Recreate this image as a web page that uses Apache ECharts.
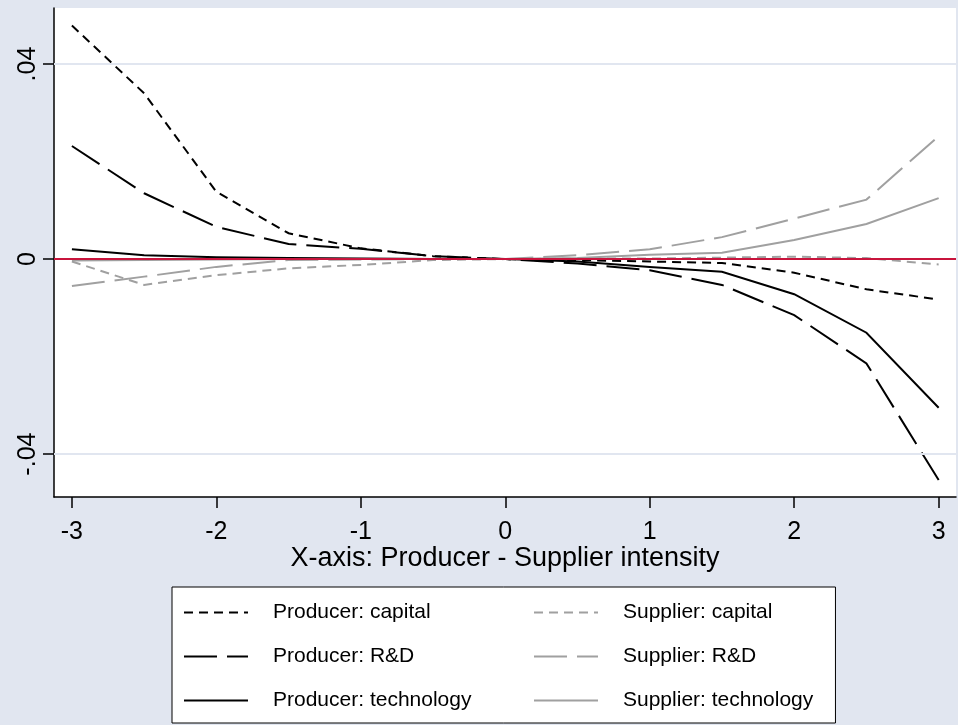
<!DOCTYPE html>
<html>
<head>
<meta charset="utf-8">
<script src="https://cdn.jsdelivr.net/npm/echarts@6/dist/echarts.min.js"></script>
<style>
html,body{margin:0;padding:0;background:#e1e6f0;}
#chart{width:958px;height:725px;}
</style>
</head>
<body>
<div id="chart"></div>
<script>
// ---- data ----
var xs = [-3, -2.5, -2, -1.5, -1, -0.5, 0, 0.5, 1, 1.5, 2, 2.5, 3];
var prodCapital = [0.0479, 0.0340, 0.0138, 0.0053, 0.0022, 0.0006, 0, -0.0002, -0.0005, -0.0008, -0.0028, -0.0062, -0.0083];
var prodRD      = [0.0232, 0.0135, 0.0066, 0.0031, 0.0021, 0.0006, 0, -0.0009, -0.0023, -0.0053, -0.0115, -0.0214, -0.0453];
var prodTech    = [0.0020, 0.0008, 0.0004, 0.0002, 0.0001, 0.0000, 0, -0.0005, -0.0016, -0.0026, -0.0072, -0.0151, -0.0305];
var supCapital  = [-0.0005, -0.0053, -0.0033, -0.0019, -0.0012, -0.0002, 0, 0.0001, 0.0001, 0.0003, 0.0005, 0.0002, -0.0011];
var supRD       = [-0.0055, -0.0036, -0.0016, -0.0002, -0.0001, 0.0000, 0, 0.0008, 0.0020, 0.0045, 0.0083, 0.0122, 0.0252];
var supTech     = [-0.0003, -0.0002, -0.0001, 0, 0, 0, 0, 0.0002, 0.0009, 0.0013, 0.0039, 0.0072, 0.0125];
var xTicks = [-3, -2, -1, 0, 1, 2, 3];
var yTicks = [-0.04, 0, 0.04];
var gridLineValues = [-0.04, 0.04];
var refLineValue = 0;
var xTitle = 'X-axis: Producer - Supplier intensity';
var names = ['Producer: capital', 'Producer: R&D', 'Producer: technology',
             'Supplier: capital', 'Supplier: R&D', 'Supplier: technology'];

function pairs(ys) { return xs.map(function (x, i) { return [x, ys[i]]; }); }

var BLACK = '#000000', GRAY = '#a0a0a0';
var SHORT = [9, 6], LONG = [33, 10];
var FONT = 'Liberation Sans, Arial, Helvetica, sans-serif';

function mk(name, ys, color, type) {
  return {
    name: name, type: 'line', data: pairs(ys), symbol: 'none', z: 3,
    lineStyle: { color: color, width: 2, type: type, join: 'miter', cap: 'butt' },
    itemStyle: { color: color },
    emphasis: { disabled: true }, animation: false
  };
}

var legendCommon = {
  orient: 'vertical', itemGap: 23, itemWidth: 64, itemHeight: 14,
  selectedMode: false,
  itemStyle: { opacity: 0, color: 'transparent', borderWidth: 0 },
  textStyle: { fontSize: 21, color: '#000', fontFamily: FONT, padding: [0, 0, 0, 20] }
};

var chart = echarts.init(document.getElementById('chart'), null, { renderer: 'canvas' });
chart.setOption({
  backgroundColor: '#e1e6f0',
  animation: false,
  textStyle: { fontFamily: FONT },
  grid: {
    left: 54, right: 2, top: 8, bottom: 228,
    show: true, backgroundColor: '#ffffff', borderWidth: 0,
    containLabel: false, outerBoundsMode: 'none'
  },
  xAxis: {
    type: 'value', min: -3.124, max: 3.12,
    axisLine: { show: true, onZero: false, lineStyle: { color: '#000', width: 1.5 } },
    axisTick: { show: true, inside: false, length: 11, customValues: xTicks, lineStyle: { color: '#000', width: 1.5 } },
    axisLabel: { show: true, customValues: xTicks, margin: 23, fontSize: 25, color: '#000', fontFamily: FONT,
                 formatter: function (v) { return String(v); } },
    splitLine: { show: false },
    name: xTitle, nameLocation: 'middle', nameGap: 48, nameMoveOverlap: false,
    nameTextStyle: { fontSize: 27, color: '#000', fontFamily: FONT }
  },
  yAxis: {
    type: 'value', min: -0.0488, max: 0.0515,
    axisLine: { show: true, onZero: false, lineStyle: { color: '#000', width: 1.5 } },
    axisTick: { show: true, inside: false, length: 11, customValues: yTicks, lineStyle: { color: '#000', width: 1.5 } },
    axisLabel: { show: true, customValues: yTicks, rotate: 90, margin: 13, fontSize: 25, color: '#000', fontFamily: FONT,
                 formatter: function (v) {
                   if (Math.abs(v) < 1e-12) return '0';
                   var s = String(Math.round(Math.abs(v) * 10000) / 10000).replace(/^0/, '');
                   return (v < 0 ? '-' : '') + s;
                 } },
    splitLine: { show: false }
  },
  legend: [
    Object.assign({}, legendCommon, {
      data: names.slice(0, 3), left: 172, top: 587,
      padding: [15, 364, 12, 11],
      backgroundColor: '#ffffff', borderColor: '#000000', borderWidth: 1, borderRadius: 0
    }),
    Object.assign({}, legendCommon, {
      data: names.slice(3, 6), left: 533, top: 602, padding: 0
    })
  ],
  series: [
    {
      name: 'ref', type: 'line', data: [], z: 1, symbol: 'none', animation: false,
      markLine: {
        silent: true, symbol: ['none', 'none'], label: { show: false }, animation: false,
        data: gridLineValues.map(function (v) {
          return { yAxis: v, lineStyle: { color: '#e1e6f0', width: 2, type: 'solid' } };
        }).concat([{ yAxis: refLineValue, lineStyle: { color: '#c8143c', width: 2, type: 'solid' } }])
      }
    },
    mk(names[0], prodCapital, BLACK, SHORT),
    mk(names[1], prodRD, BLACK, LONG),
    mk(names[2], prodTech, BLACK, 'solid'),
    mk(names[3], supCapital, GRAY, SHORT),
    mk(names[4], supRD, GRAY, LONG),
    mk(names[5], supTech, GRAY, 'solid')
  ]
});
</script>
</body>
</html>
